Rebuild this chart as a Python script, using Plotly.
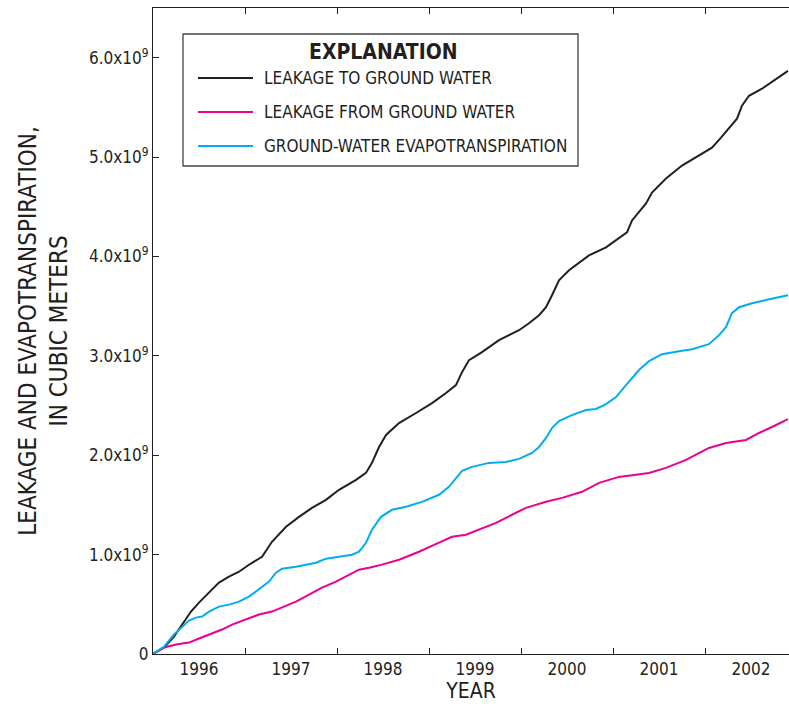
import plotly.graph_objects as go

# ---------------- data ----------------
years_to = [1996.000, 1996.120, 1996.228, 1996.315, 1996.413, 1996.500, 1996.609, 1996.717,
            1996.826, 1996.935, 1997.043, 1997.185, 1997.293, 1997.446, 1997.587, 1997.728,
            1997.880, 1998.022, 1998.207, 1998.315, 1998.380, 1998.457, 1998.533, 1998.674,
            1998.859, 1999.033, 1999.185, 1999.293, 1999.359, 1999.435, 1999.576, 1999.761,
            1999.978, 2000.087, 2000.196, 2000.272, 2000.337, 2000.413, 2000.522, 2000.739,
            2000.924, 2001.065, 2001.152, 2001.207, 2001.283, 2001.359, 2001.424, 2001.576,
            2001.750, 2001.935, 2002.076, 2002.174, 2002.261, 2002.348, 2002.402, 2002.478,
            2002.620, 2002.772, 2002.902]
leak_to = [0.000, 0.065, 0.176, 0.296, 0.427, 0.517, 0.617, 0.718,
           0.778, 0.828, 0.898, 0.978, 1.129, 1.280, 1.380, 1.471,
           1.551, 1.652, 1.752, 1.822, 1.923, 2.083, 2.204, 2.324,
           2.425, 2.525, 2.626, 2.706, 2.836, 2.957, 3.037, 3.158,
           3.258, 3.328, 3.409, 3.489, 3.610, 3.760, 3.861, 4.011,
           4.091, 4.182, 4.242, 4.362, 4.443, 4.533, 4.643, 4.784,
           4.915, 5.015, 5.095, 5.196, 5.296, 5.386, 5.517, 5.617,
           5.688, 5.788, 5.868]

years_from = [1996.000, 1996.120, 1996.250, 1996.391, 1996.500, 1996.609, 1996.750, 1996.859,
              1997.011, 1997.152, 1997.293, 1997.402, 1997.554, 1997.696, 1997.837, 1997.989,
              1998.130, 1998.239, 1998.348, 1998.489, 1998.674, 1998.891, 1999.109, 1999.250,
              1999.402, 1999.543, 1999.728, 1999.902, 2000.054, 2000.272, 2000.446, 2000.663,
              2000.848, 2001.065, 2001.391, 2001.576, 2001.793, 2002.043, 2002.228, 2002.446,
              2002.587, 2002.728, 2002.902]
leak_from = [0.000, 0.065, 0.095, 0.115, 0.156, 0.196, 0.246, 0.296,
             0.346, 0.397, 0.427, 0.467, 0.527, 0.597, 0.668, 0.728,
             0.798, 0.848, 0.868, 0.899, 0.949, 1.029, 1.120, 1.180,
             1.200, 1.250, 1.320, 1.401, 1.471, 1.531, 1.571, 1.632,
             1.722, 1.782, 1.822, 1.873, 1.953, 2.073, 2.123, 2.154,
             2.224, 2.284, 2.364]

years_et = [1996.000, 1996.120, 1996.228, 1996.315, 1996.391, 1996.467, 1996.533, 1996.609,
            1996.717, 1996.826, 1996.935, 1997.043, 1997.152, 1997.261, 1997.337, 1997.402,
            1997.554, 1997.696, 1997.772, 1997.880, 1998.022, 1998.163, 1998.239, 1998.315,
            1998.380, 1998.478, 1998.598, 1998.750, 1998.924, 1999.109, 1999.217, 1999.293,
            1999.359, 1999.467, 1999.652, 1999.837, 1999.978, 2000.120, 2000.196, 2000.272,
            2000.337, 2000.413, 2000.554, 2000.707, 2000.815, 2000.924, 2001.033, 2001.141,
            2001.283, 2001.391, 2001.533, 2001.717, 2001.859, 2002.043, 2002.152, 2002.228,
            2002.293, 2002.370, 2002.511, 2002.696, 2002.902]
gw_et = [0.000, 0.075, 0.196, 0.276, 0.336, 0.366, 0.377, 0.427,
         0.477, 0.497, 0.527, 0.577, 0.648, 0.728, 0.818, 0.858,
         0.878, 0.909, 0.919, 0.959, 0.979, 0.999, 1.029, 1.119,
         1.250, 1.380, 1.451, 1.481, 1.531, 1.602, 1.682, 1.772,
         1.842, 1.883, 1.923, 1.933, 1.963, 2.023, 2.083, 2.174,
         2.274, 2.344, 2.404, 2.455, 2.465, 2.515, 2.585, 2.706,
         2.857, 2.947, 3.017, 3.047, 3.067, 3.117, 3.208, 3.288,
         3.429, 3.489, 3.529, 3.569, 3.610]

series_names = ["LEAKAGE TO GROUND WATER", "LEAKAGE FROM GROUND WATER",
                "GROUND-WATER EVAPOTRANSPIRATION"]
series_colors = ["#231f20", "#ec008c", "#00aeef"]

year_labels = ["1996", "1997", "1998", "1999", "2000", "2001", "2002"]
y_tick_values = [0, 1e9, 2e9, 3e9, 4e9, 5e9, 6e9]
y_tick_labels = ["0", "1.0x10<sup>9</sup>", "2.0x10<sup>9</sup>", "3.0x10<sup>9</sup>",
                 "4.0x10<sup>9</sup>", "5.0x10<sup>9</sup>", "6.0x10<sup>9</sup>"]

# ---------------- figure ----------------
FONT = "DejaVu Sans Condensed, Liberation Sans Narrow, Arial Narrow, sans-serif"
INK = "#231f20"
W, H = 789, 704
ML, MR, MT, MB = 153, 0, 8, 50
PW, PH = W - ML - MR, H - MT - MB


def fx(px):
    return (px - ML) / PW


def fy(py):
    return (H - MB - py) / PH


fig = go.Figure()
all_series = [(years_to, leak_to), (years_from, leak_from), (years_et, gw_et)]
for (xs, ys), name, col in zip(all_series, series_names, series_colors):
    fig.add_trace(go.Scatter(x=xs, y=[v * 1e9 for v in ys], mode="lines", name=name,
                             line=dict(color=col, width=2), showlegend=False))

x_end = 1996 + PW / 92.0
mid_years = [int(y) + 0.5 for y in year_labels]
boundaries = [int(y) for y in year_labels[1:]]

fig.update_layout(
    width=W, height=H,
    margin=dict(l=ML, r=MR, t=MT, b=MB, autoexpand=False),
    paper_bgcolor="white", plot_bgcolor="white",
    font=dict(family=FONT, color=INK, size=17),
    xaxis=dict(range=[1996, x_end], tickmode="array", tickvals=mid_years, ticktext=year_labels,
               ticks="", showgrid=False, zeroline=False, showline=True, linecolor=INK,
               linewidth=1, mirror="ticks", automargin=False,
               minor=dict(tickmode="array", tickvals=boundaries, ticks="inside", ticklen=6,
                          tickcolor=INK, tickwidth=1, showgrid=False),
               tickfont=dict(size=17),
               title=dict(text="YEAR", font=dict(size=21), standoff=4)),
    yaxis=dict(range=[0, 6.5e9], tickmode="array", tickvals=y_tick_values, ticktext=y_tick_labels,
               ticks="inside", ticklen=6, tickcolor=INK, showgrid=False, zeroline=False,
               showline=True, linecolor=INK, linewidth=1, mirror=False, automargin=False,
               tickfont=dict(size=17),
               title=dict(text="LEAKAGE AND EVAPOTRANSPIRATION,<br>IN CUBIC METERS",
                          font=dict(size=24), standoff=14)),
)

# explanation box (legend)
shapes = [dict(type="rect", xref="paper", yref="paper", x0=fx(183), x1=fx(578),
               y0=fy(166), y1=fy(34), line=dict(color="#444444", width=1.3),
               fillcolor="white", layer="above")]
annotations = [dict(text="<b>EXPLANATION</b>", xref="paper", yref="paper", x=fx(383), y=fy(52),
                    xanchor="center", yanchor="middle", showarrow=False,
                    font=dict(size=21, family=FONT, color=INK))]
for i, (name, col) in enumerate(zip(series_names, series_colors)):
    yy = 78 + 34 * i
    shapes.append(dict(type="line", xref="paper", yref="paper", x0=fx(198), x1=fx(253),
                       y0=fy(yy), y1=fy(yy), line=dict(color=col, width=2), layer="above"))
    annotations.append(dict(text=name, xref="paper", yref="paper", x=fx(262), y=fy(yy),
                            xanchor="left", yanchor="middle", showarrow=False,
                            font=dict(size=17, family=FONT, color=INK)))
fig.update_layout(shapes=shapes, annotations=annotations)

fig.write_html("out.html", config={"displayModeBar": False},
               post_script="document.body.style.margin='0px';document.body.style.overflow='hidden';")
